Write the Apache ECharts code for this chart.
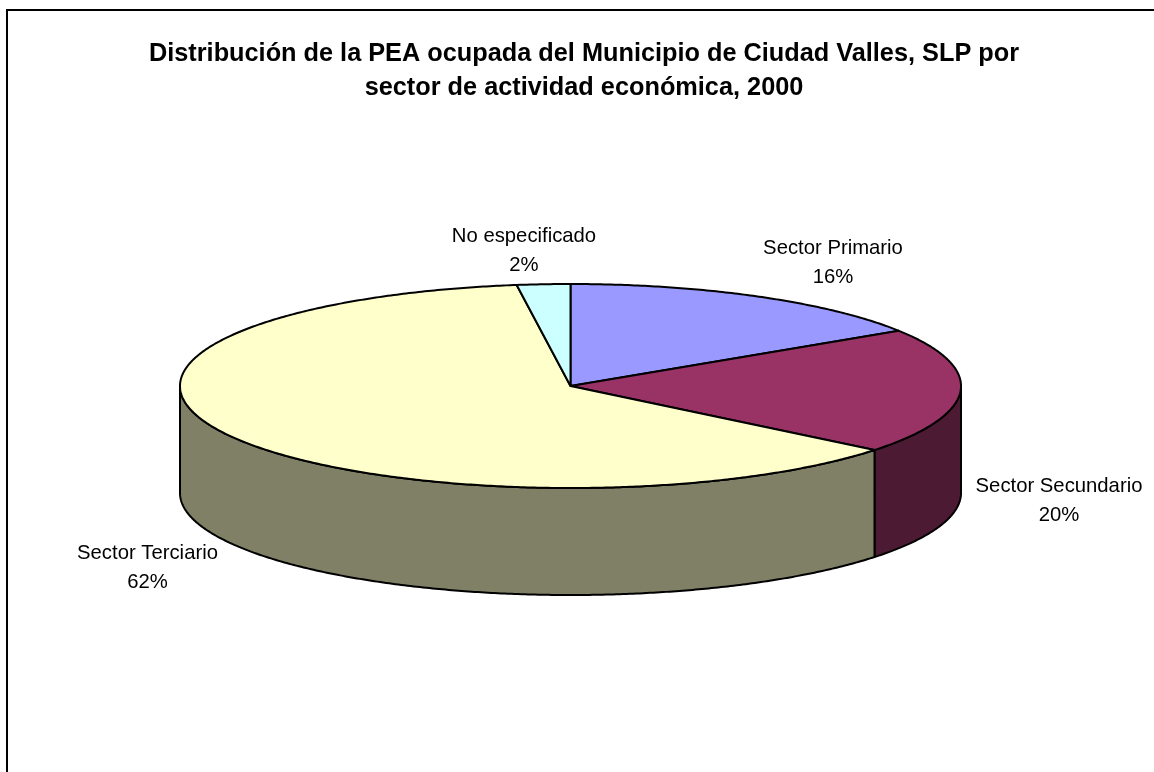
<!DOCTYPE html>
<html><head><meta charset="utf-8">
<style>html,body{margin:0;padding:0;background:#fff}#c{width:1154px;height:772px}</style>
<script src="https://cdn.jsdelivr.net/npm/echarts@6/dist/echarts.min.js"></script>
</head><body><div id="c"></div>
<script>
const titleText = 'Distribución de la PEA ocupada del Municipio de Ciudad Valles, SLP por\nsector de actividad económica, 2000';
const categories = ['Sector Primario', 'Sector Secundario', 'Sector Terciario', 'No especificado'];
const shares = [15.9, 19.9, 62.0, 2.2];
const topColors = ['#9999FF', '#993366', '#FFFFCC', '#CCFFFF'];
const wallColors = ['#4D4D80', '#4D1A33', '#808066', '#668080'];
const labelCenters = [[833, 263], [1059, 501], [147.5, 568], [524, 251]];

const PIE = {cx: 570.5, cy: 386, rx: 390.5, ry: 102, depth: 107};
const total = shares.reduce((a, b) => a + b, 0);
const rad = d => d * Math.PI / 180;
const pt = (deg, dy) => [PIE.cx + PIE.rx * Math.sin(rad(deg)), PIE.cy - PIE.ry * Math.cos(rad(deg)) + (dy || 0)];
function arc(a, b, dy) {
  const n = Math.max(2, Math.ceil(Math.abs(b - a) * 2)), out = [];
  for (let i = 0; i <= n; i++) out.push(pt(a + (b - a) * i / n, dy));
  return out;
}
function startAngle(i) {
  let s = 0;
  for (let k = 0; k < i; k++) s += shares[k];
  return s / total * 360;
}
const lineStyle = fill => ({fill, stroke: '#000', lineWidth: 2, lineJoin: 'round'});

function renderWalls(params, api) {
  const i = params.dataIndex, v = api.value(1);
  const a = startAngle(i), b = a + v / total * 360;
  const s = Math.max(a, 90), e = Math.min(b, 270);
  if (e <= s) return {type: 'group', children: []};
  const points = arc(s, e, 0).concat(arc(e, s, PIE.depth));
  return {type: 'polygon', shape: {points}, style: lineStyle(wallColors[i])};
}
function renderTops(params, api) {
  const i = params.dataIndex, v = api.value(1);
  const a = startAngle(i), b = a + v / total * 360;
  const points = [[PIE.cx, PIE.cy]].concat(arc(a, b, 0));
  const c = labelCenters[i];
  return {type: 'group', children: [
    {type: 'polygon', shape: {points}, style: lineStyle(topColors[i])},
    {type: 'text', x: c[0], y: c[1], style: {
      text: api.value(0) + '\n' + Math.round(v) + '%',
      x: 0, y: 0, align: 'center', verticalAlign: 'middle',
      font: '20.3px "Liberation Sans", Arial, sans-serif', lineHeight: 29, fill: '#000'}}
  ]};
}
const rows = categories.map((n, i) => [n, shares[i]]);
const chart = echarts.init(document.getElementById('c'), null, {renderer: 'canvas'});
chart.setOption({
  animation: false,
  backgroundColor: '#fff',
  title: {
    text: titleText, left: 579, top: 32, textAlign: 'center',
    textStyle: {fontFamily: '"Liberation Sans", Arial, sans-serif', fontSize: 25.3, fontWeight: 'bold', color: '#000', lineHeight: 34}
  },
  graphic: [{type: 'rect', z: -1, shape: {x: 7, y: 10, width: 1300, height: 900}, style: {fill: '#fff', stroke: '#000', lineWidth: 2}}],
  series: [
    {type: 'custom', coordinateSystem: 'none', data: rows, renderItem: renderWalls, z: 2, silent: true},
    {type: 'custom', coordinateSystem: 'none', data: rows, renderItem: renderTops, z: 3, silent: true}
  ]
});
</script></body></html>
